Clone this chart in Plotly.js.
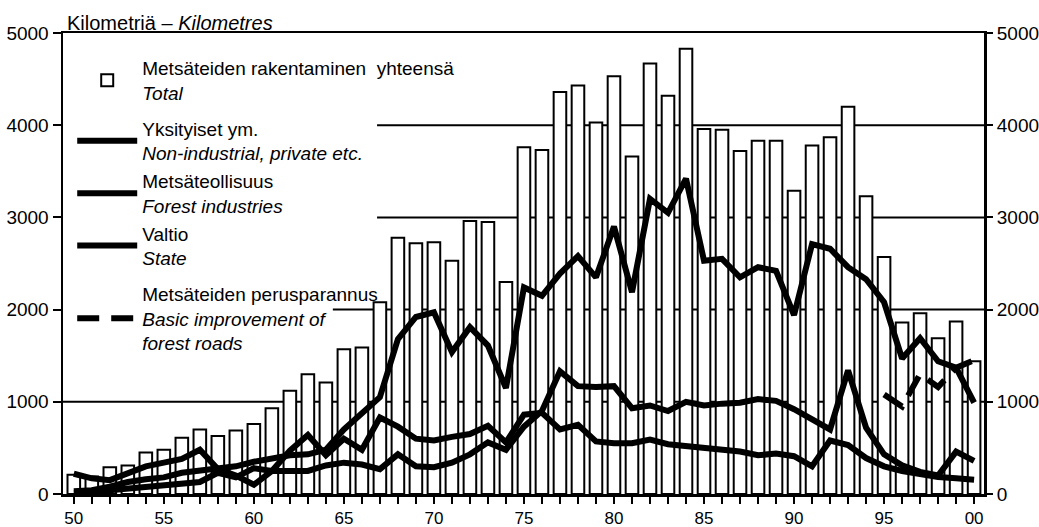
<!DOCTYPE html>
<html>
<head>
<meta charset="utf-8">
<script src="https://cdn.plot.ly/plotly-3.0.1.min.js"></script>
<style>
html,body{margin:0;padding:0;background:#fff;}
#chart{width:1039px;height:527px;}
</style>
</head>
<body>
<div id="chart"></div>
<script>
// ---- data (km per year) ----
const years = [1950,1951,1952,1953,1954,1955,1956,1957,1958,1959,
               1960,1961,1962,1963,1964,1965,1966,1967,1968,1969,
               1970,1971,1972,1973,1974,1975,1976,1977,1978,1979,
               1980,1981,1982,1983,1984,1985,1986,1987,1988,1989,
               1990,1991,1992,1993,1994,1995,1996,1997,1998,1999,2000];

const totalKm = [210,190,290,310,450,480,610,700,630,690,
                 760,930,1120,1300,1210,1570,1590,2080,2780,2720,
                 2730,2530,2960,2950,2300,3760,3730,4360,4430,4030,
                 4530,3660,4670,4320,4830,3960,3950,3720,3830,3830,
                 3290,3780,3870,4200,3230,2570,1860,1960,1690,1870,1440];

const privateKm = [30,40,80,130,160,180,230,250,280,300,
                   350,380,420,430,480,700,880,1050,1680,1920,
                   1970,1540,1810,1610,1150,2240,2150,2390,2580,2350,
                   2900,2190,3200,3050,3420,2530,2550,2350,2460,2420,
                   1940,2710,2660,2460,2330,2080,1470,1690,1440,1370,990];

const industryKm = [220,170,150,220,300,340,380,480,270,200,
                    100,250,470,640,420,600,480,830,730,600,
                    580,620,650,740,560,860,880,700,750,570,
                    550,550,590,540,520,500,480,460,420,440,
                    410,300,580,530,390,300,250,210,185,170,155];

const stateKm = [10,10,40,60,80,90,110,130,230,180,
                 280,250,250,250,310,340,320,270,430,300,
                 290,340,430,560,480,730,900,1330,1170,1160,
                 1170,930,960,900,1000,960,980,990,1030,1010,
                 920,810,700,1340,720,430,310,240,200,460,360];

const improvementYears = [1995,1996,1997,1998,1999,2000];
const improvementKm = [1080,950,1300,1160,1370,1450];

const yTickVals = [0,1000,2000,3000,4000,5000];
const yTickText = ['0','1000','2000','3000','4000','5000'];
const xTickVals = [1950,1955,1960,1965,1970,1975,1980,1985,1990,1995,2000];
const xTickText = ['50','55','60','65','70','75','80','85','90','95','00'];

// gridline levels and where each starts (paper fraction; legend area left blank)
const gridLevels = [1000,2000,3000,4000];
const gridStarts = [0,0.293,0.341,0.341];

const FONT = 'Liberation Sans, Arial, Helvetica, sans-serif';

const traces = [
  {
    type:'bar', x:years, y:totalKm, width:0.7,
    name:'Metsäteiden rakentaminen  yhteensä<br><i>Total</i>',
    marker:{color:'#ffffff', line:{color:'#000000', width:2}},
    legendgroup:'g1', hoverinfo:'skip'
  },
  {
    type:'scatter', mode:'lines', x:years, y:privateKm,
    name:'Yksityiset ym.<br><i>Non-industrial, private etc.</i>',
    line:{color:'#000000', width:6}, legendgroup:'g2', hoverinfo:'skip'
  },
  {
    type:'scatter', mode:'lines', x:years, y:industryKm,
    name:'Metsäteollisuus<br><i>Forest industries</i>',
    line:{color:'#000000', width:6}, legendgroup:'g2', hoverinfo:'skip'
  },
  {
    type:'scatter', mode:'lines', x:years, y:stateKm,
    name:'Valtio<br><i>State</i>',
    line:{color:'#000000', width:6}, legendgroup:'g2', hoverinfo:'skip'
  },
  {
    type:'scatter', mode:'lines', x:improvementYears, y:improvementKm, yaxis:'y2',
    name:'Metsäteiden perusparannus<br><i>Basic improvement of</i><br><i>forest roads</i>',
    line:{color:'#000000', width:6, dash:'22px,12px'}, legendgroup:'g3', hoverinfo:'skip'
  }
];

const axisFont = {family:FONT, size:19, color:'#000000'};

const layout = {
  width:1039, height:527,
  margin:{l:63, r:55, t:33, b:33, pad:0},
  paper_bgcolor:'#ffffff', plot_bgcolor:'#ffffff',
  font:{family:FONT, size:19, color:'#000000'},
  bargap:0.3,
  showlegend:true,
  legend:{
    x:0.01, y:0.965, xanchor:'left', yanchor:'top',
    bgcolor:'rgba(0,0,0,0)', borderwidth:0,
    font:{family:FONT, size:19, color:'#000000'},
    itemwidth:60, tracegroupgap:8, traceorder:'grouped', valign:'middle'
  },
  xaxis:{
    range:[1949.4, 2000.55], tickmode:'array', tickvals:xTickVals, ticktext:xTickText,
    ticks:'outside', ticklen:7, tickwidth:2, tickcolor:'#000000',
    minor:{tick0:1950, dtick:1, ticks:'outside', ticklen:7, tickwidth:2, tickcolor:'#000000', showgrid:false},
    showline:true, linewidth:2.5, linecolor:'#000000', mirror:true,
    showgrid:false, zeroline:false, tickfont:{family:FONT, size:17, color:'#000000'}, fixedrange:true
  },
  yaxis:{
    range:[0,5000], tickmode:'array', tickvals:yTickVals, ticktext:yTickText,
    ticks:'outside', ticklen:8, tickwidth:2, tickcolor:'#000000',
    showline:true, linewidth:2.5, linecolor:'#000000', mirror:true,
    showgrid:false, zeroline:false, tickfont:axisFont, fixedrange:true
  },
  yaxis2:{
    overlaying:'y', side:'right', range:[0,5000], tickmode:'array', tickvals:yTickVals, ticktext:yTickText,
    ticks:'outside', ticklen:8, tickwidth:2, tickcolor:'#000000',
    showline:false, showgrid:false, zeroline:false, tickfont:axisFont, fixedrange:true
  },
  shapes: gridLevels.map((v,i)=>({
    type:'line', layer:'below', xref:'paper', yref:'y',
    x0:gridStarts[i], x1:1, y0:v, y1:v,
    line:{color:'#000000', width:2}
  })),
  annotations:[{
    text:'Kilometriä – <i>Kilometres</i>', xref:'paper', yref:'paper',
    x:0, y:1, xanchor:'left', yanchor:'bottom', xshift:2, yshift:-3,
    showarrow:false, font:{family:FONT, size:20, color:'#000000'}
  }]
};

Plotly.newPlot('chart', traces, layout, {staticPlot:true, displayModeBar:false});
</script>
</body>
</html>
